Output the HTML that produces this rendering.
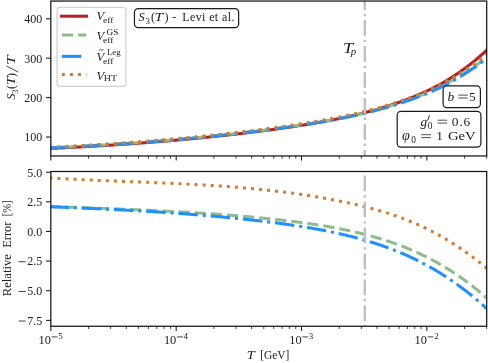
<!DOCTYPE html>
<html><head><meta charset="utf-8"><title>S3(T)/T</title>
<style>
html,body{margin:0;padding:0;background:#fff;}
svg{display:block;will-change:transform;font-family:"Liberation Serif",serif;}
</style></head>
<body>
<svg width="488" height="363" viewBox="0 0 488 363">
<rect width="488" height="363" fill="#fff"/>
<defs>
<clipPath id="ct"><rect x="50.82" y="1.05" width="435.88" height="154.89999999999998"/></clipPath>
<clipPath id="cb"><rect x="50.82" y="171.5" width="435.88" height="154.75"/></clipPath>
</defs>
<!-- top panel curves -->
<g clip-path="url(#ct)" fill="none" stroke-width="3.05">
<path d="M49.30,148.51 L50.18,148.46 L51.06,148.42 L51.94,148.38 L52.81,148.34 L53.69,148.30 L54.57,148.25 L55.45,148.21 L56.33,148.17 L57.21,148.13 L58.08,148.08 L58.96,148.04 L59.84,147.99 L60.72,147.95 L61.60,147.91 L62.48,147.86 L63.36,147.82 L64.23,147.77 L65.11,147.73 L65.99,147.68 L66.87,147.64 L67.75,147.59 L68.63,147.55 L69.50,147.50 L70.38,147.46 L71.26,147.41 L72.14,147.36 L73.02,147.32 L73.90,147.27 L74.78,147.22 L75.65,147.18 L76.53,147.13 L77.41,147.08 L78.29,147.03 L79.17,146.98 L80.05,146.94 L80.92,146.89 L81.80,146.84 L82.68,146.79 L83.56,146.74 L84.44,146.69 L85.32,146.64 L86.20,146.59 L87.07,146.54 L87.95,146.49 L88.83,146.44 L89.71,146.39 L90.59,146.34 L91.47,146.29 L92.34,146.24 L93.22,146.19 L94.10,146.13 L94.98,146.08 L95.86,146.03 L96.74,145.98 L97.62,145.92 L98.49,145.87 L99.37,145.82 L100.25,145.77 L101.13,145.71 L102.01,145.66 L102.89,145.60 L103.76,145.55 L104.64,145.49 L105.52,145.44 L106.40,145.38 L107.28,145.33 L108.16,145.27 L109.04,145.22 L109.91,145.16 L110.79,145.11 L111.67,145.05 L112.55,144.99 L113.43,144.94 L114.31,144.88 L115.18,144.82 L116.06,144.76 L116.94,144.70 L117.82,144.65 L118.70,144.59 L119.58,144.53 L120.46,144.47 L121.33,144.41 L122.21,144.35 L123.09,144.29 L123.97,144.23 L124.85,144.17 L125.73,144.11 L126.60,144.05 L127.48,143.99 L128.36,143.93 L129.24,143.86 L130.12,143.80 L131.00,143.74 L131.87,143.68 L132.75,143.62 L133.63,143.55 L134.51,143.49 L135.39,143.43 L136.27,143.36 L137.15,143.30 L138.02,143.23 L138.90,143.17 L139.78,143.10 L140.66,143.04 L141.54,142.97 L142.42,142.91 L143.29,142.84 L144.17,142.77 L145.05,142.71 L145.93,142.64 L146.81,142.57 L147.69,142.51 L148.57,142.44 L149.44,142.37 L150.32,142.30 L151.20,142.23 L152.08,142.17 L152.96,142.10 L153.84,142.03 L154.71,141.96 L155.59,141.89 L156.47,141.82 L157.35,141.75 L158.23,141.67 L159.11,141.60 L159.99,141.53 L160.86,141.46 L161.74,141.39 L162.62,141.32 L163.50,141.24 L164.38,141.17 L165.26,141.10 L166.13,141.02 L167.01,140.95 L167.89,140.87 L168.77,140.80 L169.65,140.72 L170.53,140.65 L171.41,140.57 L172.28,140.50 L173.16,140.42 L174.04,140.35 L174.92,140.27 L175.80,140.19 L176.68,140.11 L177.55,140.04 L178.43,139.96 L179.31,139.88 L180.19,139.80 L181.07,139.72 L181.95,139.64 L182.83,139.56 L183.70,139.48 L184.58,139.40 L185.46,139.32 L186.34,139.24 L187.22,139.16 L188.10,139.08 L188.97,139.00 L189.85,138.91 L190.73,138.83 L191.61,138.75 L192.49,138.66 L193.37,138.58 L194.25,138.50 L195.12,138.41 L196.00,138.33 L196.88,138.24 L197.76,138.16 L198.64,138.07 L199.52,137.98 L200.39,137.90 L201.27,137.81 L202.15,137.72 L203.03,137.64 L203.91,137.55 L204.79,137.46 L205.67,137.37 L206.54,137.28 L207.42,137.19 L208.30,137.10 L209.18,137.01 L210.06,136.92 L210.94,136.83 L211.81,136.74 L212.69,136.65 L213.57,136.56 L214.45,136.47 L215.33,136.37 L216.21,136.28 L217.09,136.19 L217.96,136.09 L218.84,136.00 L219.72,135.91 L220.60,135.81 L221.48,135.72 L222.36,135.62 L223.23,135.53 L224.11,135.43 L224.99,135.33 L225.87,135.24 L226.75,135.14 L227.63,135.04 L228.51,134.94 L229.38,134.84 L230.26,134.74 L231.14,134.65 L232.02,134.55 L232.90,134.45 L233.78,134.34 L234.65,134.24 L235.53,134.14 L236.41,134.04 L237.29,133.94 L238.17,133.84 L239.05,133.73 L239.93,133.63 L240.80,133.53 L241.68,133.42 L242.56,133.32 L243.44,133.21 L244.32,133.11 L245.20,133.00 L246.07,132.90 L246.95,132.79 L247.83,132.68 L248.71,132.58 L249.59,132.47 L250.47,132.36 L251.35,132.25 L252.22,132.14 L253.10,132.03 L253.98,131.92 L254.86,131.81 L255.74,131.70 L256.62,131.59 L257.49,131.48 L258.37,131.37 L259.25,131.25 L260.13,131.14 L261.01,131.03 L261.89,130.92 L262.77,130.80 L263.64,130.69 L264.52,130.57 L265.40,130.46 L266.28,130.34 L267.16,130.22 L268.04,130.11 L268.91,129.99 L269.79,129.87 L270.67,129.75 L271.55,129.64 L272.43,129.52 L273.31,129.40 L274.18,129.28 L275.06,129.16 L275.94,129.04 L276.82,128.92 L277.70,128.79 L278.58,128.67 L279.46,128.55 L280.33,128.43 L281.21,128.30 L282.09,128.18 L282.97,128.05 L283.85,127.93 L284.73,127.80 L285.60,127.68 L286.48,127.55 L287.36,127.43 L288.24,127.30 L289.12,127.17 L290.00,127.04 L290.88,126.91 L291.75,126.78 L292.63,126.65 L293.51,126.52 L294.39,126.39 L295.27,126.26 L296.15,126.13 L297.02,125.99 L297.90,125.86 L298.78,125.73 L299.66,125.59 L300.54,125.45 L301.42,125.32 L302.30,125.18 L303.17,125.04 L304.05,124.90 L304.93,124.76 L305.81,124.62 L306.69,124.48 L307.57,124.34 L308.44,124.20 L309.32,124.05 L310.20,123.91 L311.08,123.76 L311.96,123.62 L312.84,123.47 L313.72,123.32 L314.59,123.17 L315.47,123.02 L316.35,122.87 L317.23,122.72 L318.11,122.57 L318.99,122.42 L319.86,122.26 L320.74,122.11 L321.62,121.95 L322.50,121.79 L323.38,121.63 L324.26,121.47 L325.14,121.31 L326.01,121.15 L326.89,120.99 L327.77,120.82 L328.65,120.66 L329.53,120.49 L330.41,120.32 L331.28,120.15 L332.16,119.98 L333.04,119.81 L333.92,119.64 L334.80,119.46 L335.68,119.29 L336.56,119.11 L337.43,118.94 L338.31,118.76 L339.19,118.58 L340.07,118.39 L340.95,118.21 L341.83,118.03 L342.70,117.84 L343.58,117.65 L344.46,117.47 L345.34,117.28 L346.22,117.09 L347.10,116.89 L347.98,116.70 L348.85,116.50 L349.73,116.31 L350.61,116.11 L351.49,115.91 L352.37,115.71 L353.25,115.50 L354.12,115.30 L355.00,115.09 L355.88,114.88 L356.76,114.67 L357.64,114.46 L358.52,114.25 L359.40,114.04 L360.27,113.82 L361.15,113.60 L362.03,113.38 L362.91,113.16 L363.79,112.94 L364.67,112.71 L365.54,112.49 L366.42,112.26 L367.30,112.03 L368.18,111.80 L369.06,111.56 L369.94,111.33 L370.82,111.09 L371.69,110.85 L372.57,110.61 L373.45,110.37 L374.33,110.12 L375.21,109.87 L376.09,109.63 L376.96,109.37 L377.84,109.12 L378.72,108.87 L379.60,108.61 L380.48,108.35 L381.36,108.09 L382.24,107.83 L383.11,107.56 L383.99,107.29 L384.87,107.02 L385.75,106.75 L386.63,106.48 L387.51,106.20 L388.38,105.92 L389.26,105.64 L390.14,105.36 L391.02,105.07 L391.90,104.78 L392.78,104.49 L393.66,104.20 L394.53,103.91 L395.41,103.61 L396.29,103.31 L397.17,103.01 L398.05,102.71 L398.93,102.40 L399.80,102.09 L400.68,101.78 L401.56,101.46 L402.44,101.15 L403.32,100.82 L404.20,100.50 L405.08,100.18 L405.95,99.85 L406.83,99.52 L407.71,99.18 L408.59,98.84 L409.47,98.50 L410.35,98.16 L411.22,97.81 L412.10,97.46 L412.98,97.11 L413.86,96.75 L414.74,96.39 L415.62,96.03 L416.49,95.66 L417.37,95.29 L418.25,94.92 L419.13,94.54 L420.01,94.16 L420.89,93.77 L421.77,93.39 L422.64,92.99 L423.52,92.60 L424.40,92.20 L425.28,91.79 L426.16,91.39 L427.04,90.98 L427.91,90.56 L428.79,90.14 L429.67,89.72 L430.55,89.29 L431.43,88.86 L432.31,88.42 L433.19,87.98 L434.06,87.53 L434.94,87.08 L435.82,86.63 L436.70,86.17 L437.58,85.71 L438.46,85.24 L439.33,84.77 L440.21,84.29 L441.09,83.79 L441.97,83.29 L442.85,82.79 L443.73,82.28 L444.61,81.76 L445.48,81.24 L446.36,80.72 L447.24,80.19 L448.12,79.65 L449.00,79.11 L449.88,78.57 L450.75,78.02 L451.63,77.46 L452.51,76.90 L453.39,76.33 L454.27,75.76 L455.15,75.18 L456.03,74.60 L456.90,74.01 L457.78,73.41 L458.66,72.81 L459.54,72.20 L460.42,71.59 L461.30,70.97 L462.17,70.34 L463.05,69.71 L463.93,69.08 L464.81,68.43 L465.69,67.78 L466.57,67.13 L467.45,66.46 L468.32,65.80 L469.20,65.12 L470.08,64.44 L470.96,63.75 L471.84,63.06 L472.72,62.35 L473.59,61.64 L474.47,60.93 L475.35,60.21 L476.23,59.48 L477.11,58.74 L477.99,58.00 L478.87,57.25 L479.74,56.49 L480.62,55.73 L481.50,54.95 L482.38,54.17 L483.26,53.39 L484.14,52.59 L485.01,51.79 L485.89,50.98 L486.77,50.16 L487.65,49.34" stroke="#b52020" stroke-linecap="square"/>
<path d="M49.30,147.92 L50.18,147.88 L51.06,147.83 L51.94,147.79 L52.81,147.75 L53.69,147.71 L54.57,147.66 L55.45,147.62 L56.33,147.58 L57.21,147.54 L58.08,147.49 L58.96,147.45 L59.84,147.40 L60.72,147.36 L61.60,147.32 L62.48,147.27 L63.36,147.23 L64.23,147.18 L65.11,147.14 L65.99,147.09 L66.87,147.05 L67.75,147.00 L68.63,146.96 L69.50,146.91 L70.38,146.86 L71.26,146.82 L72.14,146.77 L73.02,146.73 L73.90,146.68 L74.78,146.63 L75.65,146.58 L76.53,146.54 L77.41,146.49 L78.29,146.44 L79.17,146.39 L80.05,146.34 L80.92,146.29 L81.80,146.25 L82.68,146.20 L83.56,146.15 L84.44,146.10 L85.32,146.05 L86.20,146.00 L87.07,145.95 L87.95,145.90 L88.83,145.85 L89.71,145.80 L90.59,145.75 L91.47,145.69 L92.34,145.64 L93.22,145.59 L94.10,145.54 L94.98,145.49 L95.86,145.43 L96.74,145.38 L97.62,145.33 L98.49,145.27 L99.37,145.22 L100.25,145.17 L101.13,145.11 L102.01,145.06 L102.89,145.01 L103.76,144.95 L104.64,144.90 L105.52,144.84 L106.40,144.79 L107.28,144.73 L108.16,144.67 L109.04,144.62 L109.91,144.56 L110.79,144.51 L111.67,144.45 L112.55,144.39 L113.43,144.33 L114.31,144.28 L115.18,144.22 L116.06,144.16 L116.94,144.10 L117.82,144.05 L118.70,143.99 L119.58,143.93 L120.46,143.87 L121.33,143.81 L122.21,143.75 L123.09,143.69 L123.97,143.63 L124.85,143.57 L125.73,143.51 L126.60,143.45 L127.48,143.38 L128.36,143.32 L129.24,143.26 L130.12,143.20 L131.00,143.14 L131.87,143.07 L132.75,143.01 L133.63,142.95 L134.51,142.88 L135.39,142.82 L136.27,142.76 L137.15,142.69 L138.02,142.63 L138.90,142.56 L139.78,142.50 L140.66,142.43 L141.54,142.37 L142.42,142.30 L143.29,142.24 L144.17,142.17 L145.05,142.10 L145.93,142.04 L146.81,141.97 L147.69,141.90 L148.57,141.83 L149.44,141.76 L150.32,141.70 L151.20,141.63 L152.08,141.56 L152.96,141.49 L153.84,141.42 L154.71,141.35 L155.59,141.28 L156.47,141.21 L157.35,141.14 L158.23,141.07 L159.11,141.00 L159.99,140.93 L160.86,140.85 L161.74,140.78 L162.62,140.71 L163.50,140.64 L164.38,140.56 L165.26,140.49 L166.13,140.42 L167.01,140.34 L167.89,140.27 L168.77,140.19 L169.65,140.12 L170.53,140.04 L171.41,139.97 L172.28,139.89 L173.16,139.82 L174.04,139.74 L174.92,139.66 L175.80,139.59 L176.68,139.51 L177.55,139.43 L178.43,139.35 L179.31,139.27 L180.19,139.20 L181.07,139.12 L181.95,139.04 L182.83,138.96 L183.70,138.88 L184.58,138.80 L185.46,138.72 L186.34,138.64 L187.22,138.56 L188.10,138.48 L188.97,138.39 L189.85,138.31 L190.73,138.23 L191.61,138.15 L192.49,138.06 L193.37,137.98 L194.25,137.90 L195.12,137.81 L196.00,137.73 L196.88,137.64 L197.76,137.56 L198.64,137.47 L199.52,137.39 L200.39,137.30 L201.27,137.22 L202.15,137.13 L203.03,137.04 L203.91,136.95 L204.79,136.87 L205.67,136.78 L206.54,136.69 L207.42,136.60 L208.30,136.51 L209.18,136.42 L210.06,136.33 L210.94,136.24 L211.81,136.15 L212.69,136.06 L213.57,135.97 L214.45,135.88 L215.33,135.79 L216.21,135.70 L217.09,135.60 L217.96,135.51 L218.84,135.42 L219.72,135.32 L220.60,135.23 L221.48,135.14 L222.36,135.04 L223.23,134.95 L224.11,134.85 L224.99,134.75 L225.87,134.66 L226.75,134.56 L227.63,134.47 L228.51,134.37 L229.38,134.27 L230.26,134.17 L231.14,134.07 L232.02,133.98 L232.90,133.88 L233.78,133.78 L234.65,133.68 L235.53,133.58 L236.41,133.48 L237.29,133.38 L238.17,133.28 L239.05,133.17 L239.93,133.07 L240.80,132.97 L241.68,132.87 L242.56,132.76 L243.44,132.66 L244.32,132.56 L245.20,132.45 L246.07,132.35 L246.95,132.24 L247.83,132.14 L248.71,132.03 L249.59,131.93 L250.47,131.82 L251.35,131.71 L252.22,131.61 L253.10,131.50 L253.98,131.39 L254.86,131.28 L255.74,131.17 L256.62,131.06 L257.49,130.95 L258.37,130.84 L259.25,130.73 L260.13,130.62 L261.01,130.51 L261.89,130.40 L262.77,130.29 L263.64,130.17 L264.52,130.06 L265.40,129.95 L266.28,129.84 L267.16,129.72 L268.04,129.61 L268.91,129.49 L269.79,129.38 L270.67,129.26 L271.55,129.15 L272.43,129.03 L273.31,128.91 L274.18,128.79 L275.06,128.68 L275.94,128.56 L276.82,128.44 L277.70,128.32 L278.58,128.20 L279.46,128.08 L280.33,127.96 L281.21,127.84 L282.09,127.72 L282.97,127.60 L283.85,127.48 L284.73,127.35 L285.60,127.23 L286.48,127.11 L287.36,126.99 L288.24,126.86 L289.12,126.74 L290.00,126.61 L290.88,126.49 L291.75,126.36 L292.63,126.23 L293.51,126.11 L294.39,125.98 L295.27,125.85 L296.15,125.72 L297.02,125.59 L297.90,125.46 L298.78,125.33 L299.66,125.20 L300.54,125.07 L301.42,124.93 L302.30,124.80 L303.17,124.67 L304.05,124.53 L304.93,124.40 L305.81,124.26 L306.69,124.12 L307.57,123.99 L308.44,123.85 L309.32,123.71 L310.20,123.57 L311.08,123.43 L311.96,123.29 L312.84,123.15 L313.72,123.00 L314.59,122.86 L315.47,122.71 L316.35,122.57 L317.23,122.42 L318.11,122.27 L318.99,122.13 L319.86,121.98 L320.74,121.83 L321.62,121.68 L322.50,121.52 L323.38,121.37 L324.26,121.22 L325.14,121.06 L326.01,120.91 L326.89,120.75 L327.77,120.59 L328.65,120.43 L329.53,120.27 L330.41,120.11 L331.28,119.95 L332.16,119.79 L333.04,119.62 L333.92,119.46 L334.80,119.29 L335.68,119.12 L336.56,118.95 L337.43,118.78 L338.31,118.61 L339.19,118.44 L340.07,118.27 L340.95,118.09 L341.83,117.91 L342.70,117.74 L343.58,117.56 L344.46,117.38 L345.34,117.20 L346.22,117.02 L347.10,116.83 L347.98,116.65 L348.85,116.46 L349.73,116.27 L350.61,116.08 L351.49,115.89 L352.37,115.70 L353.25,115.51 L354.12,115.32 L355.00,115.12 L355.88,114.92 L356.76,114.72 L357.64,114.52 L358.52,114.32 L359.40,114.12 L360.27,113.91 L361.15,113.71 L362.03,113.50 L362.91,113.29 L363.79,113.08 L364.67,112.87 L365.54,112.66 L366.42,112.44 L367.30,112.22 L368.18,112.01 L369.06,111.79 L369.94,111.56 L370.82,111.34 L371.69,111.11 L372.57,110.89 L373.45,110.66 L374.33,110.43 L375.21,110.20 L376.09,109.96 L376.96,109.73 L377.84,109.49 L378.72,109.25 L379.60,109.01 L380.48,108.77 L381.36,108.53 L382.24,108.28 L383.11,108.03 L383.99,107.78 L384.87,107.53 L385.75,107.28 L386.63,107.02 L387.51,106.77 L388.38,106.51 L389.26,106.25 L390.14,105.98 L391.02,105.72 L391.90,105.45 L392.78,105.18 L393.66,104.91 L394.53,104.64 L395.41,104.36 L396.29,104.09 L397.17,103.81 L398.05,103.53 L398.93,103.24 L399.80,102.96 L400.68,102.67 L401.56,102.38 L402.44,102.09 L403.32,101.80 L404.20,101.50 L405.08,101.20 L405.95,100.90 L406.83,100.59 L407.71,100.29 L408.59,99.98 L409.47,99.67 L410.35,99.35 L411.22,99.04 L412.10,98.72 L412.98,98.39 L413.86,98.07 L414.74,97.74 L415.62,97.41 L416.49,97.08 L417.37,96.74 L418.25,96.40 L419.13,96.06 L420.01,95.71 L420.89,95.36 L421.77,95.01 L422.64,94.66 L423.52,94.30 L424.40,93.94 L425.28,93.57 L426.16,93.21 L427.04,92.83 L427.91,92.46 L428.79,92.08 L429.67,91.70 L430.55,91.32 L431.43,90.93 L432.31,90.54 L433.19,90.14 L434.06,89.74 L434.94,89.34 L435.82,88.93 L436.70,88.52 L437.58,88.11 L438.46,87.69 L439.33,87.27 L440.21,86.84 L441.09,86.40 L441.97,85.96 L442.85,85.51 L443.73,85.05 L444.61,84.59 L445.48,84.13 L446.36,83.67 L447.24,83.20 L448.12,82.72 L449.00,82.25 L449.88,81.76 L450.75,81.28 L451.63,80.79 L452.51,80.29 L453.39,79.79 L454.27,79.29 L455.15,78.78 L456.03,78.27 L456.90,77.75 L457.78,77.23 L458.66,76.70 L459.54,76.17 L460.42,75.63 L461.30,75.09 L462.17,74.55 L463.05,74.00 L463.93,73.44 L464.81,72.88 L465.69,72.32 L466.57,71.75 L467.45,71.18 L468.32,70.60 L469.20,70.02 L470.08,69.43 L470.96,68.83 L471.84,68.23 L472.72,67.63 L473.59,67.02 L474.47,66.41 L475.35,65.79 L476.23,65.16 L477.11,64.54 L477.99,63.90 L478.87,63.26 L479.74,62.61 L480.62,61.96 L481.50,61.31 L482.38,60.65 L483.26,59.98 L484.14,59.31 L485.01,58.63 L485.89,57.94 L486.77,57.26 L487.65,56.56" stroke="#8fbc8f" stroke-dasharray="11.29,4.88"/>
<path d="M49.30,147.92 L50.18,147.88 L51.06,147.84 L51.94,147.80 L52.81,147.76 L53.69,147.71 L54.57,147.67 L55.45,147.63 L56.33,147.59 L57.21,147.54 L58.08,147.50 L58.96,147.46 L59.84,147.41 L60.72,147.37 L61.60,147.32 L62.48,147.28 L63.36,147.24 L64.23,147.19 L65.11,147.15 L65.99,147.10 L66.87,147.06 L67.75,147.01 L68.63,146.96 L69.50,146.92 L70.38,146.87 L71.26,146.83 L72.14,146.78 L73.02,146.73 L73.90,146.69 L74.78,146.64 L75.65,146.59 L76.53,146.54 L77.41,146.50 L78.29,146.45 L79.17,146.40 L80.05,146.35 L80.92,146.30 L81.80,146.26 L82.68,146.21 L83.56,146.16 L84.44,146.11 L85.32,146.06 L86.20,146.01 L87.07,145.96 L87.95,145.91 L88.83,145.86 L89.71,145.81 L90.59,145.76 L91.47,145.71 L92.34,145.65 L93.22,145.60 L94.10,145.55 L94.98,145.50 L95.86,145.45 L96.74,145.39 L97.62,145.34 L98.49,145.29 L99.37,145.24 L100.25,145.18 L101.13,145.13 L102.01,145.07 L102.89,145.02 L103.76,144.97 L104.64,144.91 L105.52,144.86 L106.40,144.80 L107.28,144.75 L108.16,144.69 L109.04,144.64 L109.91,144.58 L110.79,144.52 L111.67,144.47 L112.55,144.41 L113.43,144.35 L114.31,144.30 L115.18,144.24 L116.06,144.18 L116.94,144.12 L117.82,144.06 L118.70,144.01 L119.58,143.95 L120.46,143.89 L121.33,143.83 L122.21,143.77 L123.09,143.71 L123.97,143.65 L124.85,143.59 L125.73,143.53 L126.60,143.47 L127.48,143.41 L128.36,143.35 L129.24,143.29 L130.12,143.22 L131.00,143.16 L131.87,143.10 L132.75,143.04 L133.63,142.97 L134.51,142.91 L135.39,142.85 L136.27,142.78 L137.15,142.72 L138.02,142.66 L138.90,142.59 L139.78,142.53 L140.66,142.46 L141.54,142.40 L142.42,142.33 L143.29,142.27 L144.17,142.20 L145.05,142.13 L145.93,142.07 L146.81,142.00 L147.69,141.93 L148.57,141.87 L149.44,141.80 L150.32,141.73 L151.20,141.66 L152.08,141.59 L152.96,141.52 L153.84,141.46 L154.71,141.39 L155.59,141.32 L156.47,141.25 L157.35,141.18 L158.23,141.11 L159.11,141.03 L159.99,140.96 L160.86,140.89 L161.74,140.82 L162.62,140.75 L163.50,140.68 L164.38,140.60 L165.26,140.53 L166.13,140.46 L167.01,140.38 L167.89,140.31 L168.77,140.24 L169.65,140.16 L170.53,140.09 L171.41,140.01 L172.28,139.94 L173.16,139.86 L174.04,139.79 L174.92,139.71 L175.80,139.63 L176.68,139.56 L177.55,139.48 L178.43,139.40 L179.31,139.33 L180.19,139.25 L181.07,139.17 L181.95,139.09 L182.83,139.01 L183.70,138.93 L184.58,138.85 L185.46,138.77 L186.34,138.69 L187.22,138.61 L188.10,138.53 L188.97,138.45 L189.85,138.37 L190.73,138.29 L191.61,138.21 L192.49,138.12 L193.37,138.04 L194.25,137.96 L195.12,137.87 L196.00,137.79 L196.88,137.71 L197.76,137.62 L198.64,137.54 L199.52,137.45 L200.39,137.37 L201.27,137.28 L202.15,137.19 L203.03,137.11 L203.91,137.02 L204.79,136.94 L205.67,136.85 L206.54,136.76 L207.42,136.67 L208.30,136.58 L209.18,136.50 L210.06,136.41 L210.94,136.32 L211.81,136.23 L212.69,136.14 L213.57,136.05 L214.45,135.96 L215.33,135.86 L216.21,135.77 L217.09,135.68 L217.96,135.59 L218.84,135.50 L219.72,135.40 L220.60,135.31 L221.48,135.22 L222.36,135.12 L223.23,135.03 L224.11,134.93 L224.99,134.84 L225.87,134.74 L226.75,134.65 L227.63,134.55 L228.51,134.46 L229.38,134.36 L230.26,134.26 L231.14,134.17 L232.02,134.07 L232.90,133.97 L233.78,133.87 L234.65,133.77 L235.53,133.67 L236.41,133.57 L237.29,133.47 L238.17,133.37 L239.05,133.27 L239.93,133.17 L240.80,133.07 L241.68,132.97 L242.56,132.87 L243.44,132.76 L244.32,132.66 L245.20,132.56 L246.07,132.45 L246.95,132.35 L247.83,132.24 L248.71,132.14 L249.59,132.03 L250.47,131.93 L251.35,131.82 L252.22,131.72 L253.10,131.61 L253.98,131.50 L254.86,131.39 L255.74,131.29 L256.62,131.18 L257.49,131.07 L258.37,130.96 L259.25,130.85 L260.13,130.74 L261.01,130.63 L261.89,130.52 L262.77,130.41 L263.64,130.30 L264.52,130.19 L265.40,130.07 L266.28,129.96 L267.16,129.85 L268.04,129.73 L268.91,129.62 L269.79,129.51 L270.67,129.39 L271.55,129.28 L272.43,129.16 L273.31,129.04 L274.18,128.93 L275.06,128.81 L275.94,128.69 L276.82,128.58 L277.70,128.46 L278.58,128.34 L279.46,128.22 L280.33,128.10 L281.21,127.98 L282.09,127.86 L282.97,127.74 L283.85,127.62 L284.73,127.50 L285.60,127.38 L286.48,127.26 L287.36,127.14 L288.24,127.01 L289.12,126.89 L290.00,126.76 L290.88,126.64 L291.75,126.52 L292.63,126.39 L293.51,126.26 L294.39,126.14 L295.27,126.01 L296.15,125.88 L297.02,125.76 L297.90,125.63 L298.78,125.50 L299.66,125.37 L300.54,125.24 L301.42,125.11 L302.30,124.97 L303.17,124.84 L304.05,124.71 L304.93,124.57 L305.81,124.44 L306.69,124.30 L307.57,124.17 L308.44,124.03 L309.32,123.89 L310.20,123.76 L311.08,123.62 L311.96,123.48 L312.84,123.34 L313.72,123.19 L314.59,123.05 L315.47,122.91 L316.35,122.77 L317.23,122.62 L318.11,122.47 L318.99,122.33 L319.86,122.18 L320.74,122.03 L321.62,121.88 L322.50,121.73 L323.38,121.58 L324.26,121.43 L325.14,121.28 L326.01,121.12 L326.89,120.97 L327.77,120.81 L328.65,120.65 L329.53,120.50 L330.41,120.34 L331.28,120.18 L332.16,120.01 L333.04,119.85 L333.92,119.69 L334.80,119.52 L335.68,119.36 L336.56,119.19 L337.43,119.02 L338.31,118.85 L339.19,118.68 L340.07,118.51 L340.95,118.34 L341.83,118.16 L342.70,117.99 L343.58,117.81 L344.46,117.64 L345.34,117.46 L346.22,117.28 L347.10,117.10 L347.98,116.91 L348.85,116.73 L349.73,116.54 L350.61,116.36 L351.49,116.17 L352.37,115.98 L353.25,115.79 L354.12,115.60 L355.00,115.40 L355.88,115.21 L356.76,115.01 L357.64,114.81 L358.52,114.62 L359.40,114.41 L360.27,114.21 L361.15,114.01 L362.03,113.80 L362.91,113.60 L363.79,113.39 L364.67,113.18 L365.54,112.97 L366.42,112.76 L367.30,112.54 L368.18,112.33 L369.06,112.11 L369.94,111.89 L370.82,111.67 L371.69,111.45 L372.57,111.22 L373.45,111.00 L374.33,110.77 L375.21,110.54 L376.09,110.31 L376.96,110.08 L377.84,109.85 L378.72,109.61 L379.60,109.37 L380.48,109.13 L381.36,108.89 L382.24,108.65 L383.11,108.41 L383.99,108.16 L384.87,107.91 L385.75,107.66 L386.63,107.41 L387.51,107.16 L388.38,106.90 L389.26,106.64 L390.14,106.38 L391.02,106.12 L391.90,105.86 L392.78,105.59 L393.66,105.33 L394.53,105.06 L395.41,104.79 L396.29,104.51 L397.17,104.24 L398.05,103.96 L398.93,103.68 L399.80,103.40 L400.68,103.12 L401.56,102.83 L402.44,102.55 L403.32,102.26 L404.20,101.96 L405.08,101.67 L405.95,101.37 L406.83,101.07 L407.71,100.77 L408.59,100.46 L409.47,100.16 L410.35,99.85 L411.22,99.54 L412.10,99.22 L412.98,98.90 L413.86,98.58 L414.74,98.26 L415.62,97.93 L416.49,97.60 L417.37,97.27 L418.25,96.94 L419.13,96.60 L420.01,96.26 L420.89,95.92 L421.77,95.57 L422.64,95.22 L423.52,94.87 L424.40,94.51 L425.28,94.15 L426.16,93.79 L427.04,93.43 L427.91,93.06 L428.79,92.68 L429.67,92.31 L430.55,91.93 L431.43,91.55 L432.31,91.16 L433.19,90.77 L434.06,90.38 L434.94,89.98 L435.82,89.58 L436.70,89.18 L437.58,88.77 L438.46,88.36 L439.33,87.95 L440.21,87.52 L441.09,87.09 L441.97,86.65 L442.85,86.21 L443.73,85.76 L444.61,85.31 L445.48,84.85 L446.36,84.40 L447.24,83.93 L448.12,83.47 L449.00,83.00 L449.88,82.52 L450.75,82.04 L451.63,81.56 L452.51,81.07 L453.39,80.58 L454.27,80.08 L455.15,79.58 L456.03,79.08 L456.90,78.57 L457.78,78.05 L458.66,77.53 L459.54,77.01 L460.42,76.48 L461.30,75.95 L462.17,75.41 L463.05,74.87 L463.93,74.33 L464.81,73.78 L465.69,73.22 L466.57,72.66 L467.45,72.10 L468.32,71.53 L469.20,70.95 L470.08,70.37 L470.96,69.79 L471.84,69.20 L472.72,68.60 L473.59,68.00 L474.47,67.40 L475.35,66.79 L476.23,66.17 L477.11,65.55 L477.99,64.93 L478.87,64.30 L479.74,63.66 L480.62,63.02 L481.50,62.38 L482.38,61.72 L483.26,61.07 L484.14,60.40 L485.01,59.74 L485.89,59.06 L486.77,58.39 L487.65,57.70" stroke="#1e90ff" stroke-dasharray="19.52,4.88,3.05,4.88"/>
<path d="M49.30,147.24 L50.18,147.20 L51.06,147.16 L51.94,147.12 L52.81,147.07 L53.69,147.03 L54.57,146.99 L55.45,146.95 L56.33,146.90 L57.21,146.86 L58.08,146.81 L58.96,146.77 L59.84,146.73 L60.72,146.68 L61.60,146.64 L62.48,146.59 L63.36,146.55 L64.23,146.50 L65.11,146.46 L65.99,146.41 L66.87,146.36 L67.75,146.32 L68.63,146.27 L69.50,146.22 L70.38,146.18 L71.26,146.13 L72.14,146.08 L73.02,146.04 L73.90,145.99 L74.78,145.94 L75.65,145.89 L76.53,145.84 L77.41,145.79 L78.29,145.75 L79.17,145.70 L80.05,145.65 L80.92,145.60 L81.80,145.55 L82.68,145.50 L83.56,145.45 L84.44,145.40 L85.32,145.35 L86.20,145.29 L87.07,145.24 L87.95,145.19 L88.83,145.14 L89.71,145.09 L90.59,145.04 L91.47,144.98 L92.34,144.93 L93.22,144.88 L94.10,144.83 L94.98,144.77 L95.86,144.72 L96.74,144.67 L97.62,144.61 L98.49,144.56 L99.37,144.50 L100.25,144.45 L101.13,144.39 L102.01,144.34 L102.89,144.28 L103.76,144.23 L104.64,144.17 L105.52,144.11 L106.40,144.06 L107.28,144.00 L108.16,143.94 L109.04,143.89 L109.91,143.83 L110.79,143.77 L111.67,143.71 L112.55,143.65 L113.43,143.60 L114.31,143.54 L115.18,143.48 L116.06,143.42 L116.94,143.36 L117.82,143.30 L118.70,143.24 L119.58,143.18 L120.46,143.12 L121.33,143.06 L122.21,143.00 L123.09,142.94 L123.97,142.87 L124.85,142.81 L125.73,142.75 L126.60,142.69 L127.48,142.62 L128.36,142.56 L129.24,142.50 L130.12,142.43 L131.00,142.37 L131.87,142.31 L132.75,142.24 L133.63,142.18 L134.51,142.11 L135.39,142.05 L136.27,141.98 L137.15,141.92 L138.02,141.85 L138.90,141.78 L139.78,141.72 L140.66,141.65 L141.54,141.58 L142.42,141.51 L143.29,141.45 L144.17,141.38 L145.05,141.31 L145.93,141.24 L146.81,141.17 L147.69,141.10 L148.57,141.03 L149.44,140.96 L150.32,140.89 L151.20,140.82 L152.08,140.75 L152.96,140.68 L153.84,140.61 L154.71,140.54 L155.59,140.47 L156.47,140.39 L157.35,140.32 L158.23,140.25 L159.11,140.18 L159.99,140.10 L160.86,140.03 L161.74,139.95 L162.62,139.88 L163.50,139.81 L164.38,139.73 L165.26,139.66 L166.13,139.58 L167.01,139.50 L167.89,139.43 L168.77,139.35 L169.65,139.27 L170.53,139.20 L171.41,139.12 L172.28,139.04 L173.16,138.96 L174.04,138.89 L174.92,138.81 L175.80,138.73 L176.68,138.65 L177.55,138.57 L178.43,138.49 L179.31,138.41 L180.19,138.33 L181.07,138.25 L181.95,138.17 L182.83,138.08 L183.70,138.00 L184.58,137.92 L185.46,137.84 L186.34,137.75 L187.22,137.67 L188.10,137.59 L188.97,137.50 L189.85,137.42 L190.73,137.34 L191.61,137.25 L192.49,137.17 L193.37,137.08 L194.25,136.99 L195.12,136.91 L196.00,136.82 L196.88,136.73 L197.76,136.65 L198.64,136.56 L199.52,136.47 L200.39,136.38 L201.27,136.29 L202.15,136.21 L203.03,136.12 L203.91,136.03 L204.79,135.94 L205.67,135.85 L206.54,135.76 L207.42,135.67 L208.30,135.57 L209.18,135.48 L210.06,135.39 L210.94,135.30 L211.81,135.20 L212.69,135.11 L213.57,135.02 L214.45,134.92 L215.33,134.83 L216.21,134.74 L217.09,134.64 L217.96,134.55 L218.84,134.45 L219.72,134.35 L220.60,134.26 L221.48,134.16 L222.36,134.06 L223.23,133.97 L224.11,133.87 L224.99,133.77 L225.87,133.67 L226.75,133.57 L227.63,133.47 L228.51,133.37 L229.38,133.27 L230.26,133.17 L231.14,133.07 L232.02,132.97 L232.90,132.87 L233.78,132.77 L234.65,132.67 L235.53,132.56 L236.41,132.46 L237.29,132.36 L238.17,132.25 L239.05,132.15 L239.93,132.05 L240.80,131.94 L241.68,131.84 L242.56,131.73 L243.44,131.62 L244.32,131.52 L245.20,131.41 L246.07,131.30 L246.95,131.20 L247.83,131.09 L248.71,130.98 L249.59,130.87 L250.47,130.76 L251.35,130.65 L252.22,130.54 L253.10,130.43 L253.98,130.32 L254.86,130.21 L255.74,130.10 L256.62,129.99 L257.49,129.88 L258.37,129.76 L259.25,129.65 L260.13,129.54 L261.01,129.42 L261.89,129.31 L262.77,129.19 L263.64,129.08 L264.52,128.96 L265.40,128.85 L266.28,128.73 L267.16,128.61 L268.04,128.50 L268.91,128.38 L269.79,128.26 L270.67,128.14 L271.55,128.02 L272.43,127.91 L273.31,127.79 L274.18,127.67 L275.06,127.55 L275.94,127.43 L276.82,127.30 L277.70,127.18 L278.58,127.06 L279.46,126.94 L280.33,126.82 L281.21,126.69 L282.09,126.57 L282.97,126.44 L283.85,126.32 L284.73,126.19 L285.60,126.07 L286.48,125.94 L287.36,125.82 L288.24,125.69 L289.12,125.56 L290.00,125.44 L290.88,125.31 L291.75,125.18 L292.63,125.05 L293.51,124.92 L294.39,124.79 L295.27,124.66 L296.15,124.53 L297.02,124.40 L297.90,124.26 L298.78,124.13 L299.66,124.00 L300.54,123.86 L301.42,123.73 L302.30,123.59 L303.17,123.45 L304.05,123.32 L304.93,123.18 L305.81,123.04 L306.69,122.90 L307.57,122.76 L308.44,122.62 L309.32,122.48 L310.20,122.33 L311.08,122.19 L311.96,122.04 L312.84,121.90 L313.72,121.75 L314.59,121.61 L315.47,121.46 L316.35,121.31 L317.23,121.16 L318.11,121.01 L318.99,120.86 L319.86,120.71 L320.74,120.55 L321.62,120.40 L322.50,120.24 L323.38,120.09 L324.26,119.93 L325.14,119.77 L326.01,119.61 L326.89,119.45 L327.77,119.29 L328.65,119.13 L329.53,118.97 L330.41,118.80 L331.28,118.64 L332.16,118.47 L333.04,118.30 L333.92,118.13 L334.80,117.96 L335.68,117.79 L336.56,117.62 L337.43,117.44 L338.31,117.27 L339.19,117.09 L340.07,116.91 L340.95,116.74 L341.83,116.56 L342.70,116.37 L343.58,116.19 L344.46,116.01 L345.34,115.82 L346.22,115.64 L347.10,115.45 L347.98,115.26 L348.85,115.07 L349.73,114.88 L350.61,114.68 L351.49,114.49 L352.37,114.29 L353.25,114.09 L354.12,113.89 L355.00,113.69 L355.88,113.49 L356.76,113.29 L357.64,113.08 L358.52,112.88 L359.40,112.67 L360.27,112.46 L361.15,112.25 L362.03,112.03 L362.91,111.82 L363.79,111.60 L364.67,111.38 L365.54,111.17 L366.42,110.94 L367.30,110.72 L368.18,110.50 L369.06,110.27 L369.94,110.04 L370.82,109.81 L371.69,109.58 L372.57,109.35 L373.45,109.12 L374.33,108.88 L375.21,108.64 L376.09,108.40 L376.96,108.16 L377.84,107.92 L378.72,107.67 L379.60,107.42 L380.48,107.17 L381.36,106.92 L382.24,106.67 L383.11,106.42 L383.99,106.16 L384.87,105.90 L385.75,105.64 L386.63,105.38 L387.51,105.11 L388.38,104.85 L389.26,104.58 L390.14,104.31 L391.02,104.04 L391.90,103.76 L392.78,103.49 L393.66,103.21 L394.53,102.93 L395.41,102.65 L396.29,102.36 L397.17,102.08 L398.05,101.79 L398.93,101.50 L399.80,101.20 L400.68,100.91 L401.56,100.61 L402.44,100.31 L403.32,100.01 L404.20,99.70 L405.08,99.39 L405.95,99.08 L406.83,98.77 L407.71,98.45 L408.59,98.14 L409.47,97.82 L410.35,97.49 L411.22,97.17 L412.10,96.84 L412.98,96.51 L413.86,96.17 L414.74,95.84 L415.62,95.50 L416.49,95.15 L417.37,94.81 L418.25,94.46 L419.13,94.10 L420.01,93.75 L420.89,93.39 L421.77,93.03 L422.64,92.66 L423.52,92.30 L424.40,91.92 L425.28,91.55 L426.16,91.17 L427.04,90.79 L427.91,90.40 L428.79,90.02 L429.67,89.62 L430.55,89.23 L431.43,88.83 L432.31,88.43 L433.19,88.02 L434.06,87.61 L434.94,87.20 L435.82,86.78 L436.70,86.36 L437.58,85.93 L438.46,85.50 L439.33,85.07 L440.21,84.63 L441.09,84.17 L441.97,83.72 L442.85,83.25 L443.73,82.79 L444.61,82.31 L445.48,81.84 L446.36,81.36 L447.24,80.88 L448.12,80.39 L449.00,79.90 L449.88,79.40 L450.75,78.90 L451.63,78.39 L452.51,77.88 L453.39,77.37 L454.27,76.85 L455.15,76.33 L456.03,75.80 L456.90,75.26 L457.78,74.73 L458.66,74.18 L459.54,73.64 L460.42,73.08 L461.30,72.53 L462.17,71.97 L463.05,71.40 L463.93,70.83 L464.81,70.25 L465.69,69.67 L466.57,69.08 L467.45,68.49 L468.32,67.89 L469.20,67.29 L470.08,66.68 L470.96,66.07 L471.84,65.45 L472.72,64.83 L473.59,64.20 L474.47,63.56 L475.35,62.92 L476.23,62.28 L477.11,61.62 L477.99,60.97 L478.87,60.31 L479.74,59.64 L480.62,58.96 L481.50,58.28 L482.38,57.60 L483.26,56.91 L484.14,56.21 L485.01,55.51 L485.89,54.80 L486.77,54.08 L487.65,53.36" stroke="#cd7f32" stroke-dasharray="3.05,5.03"/>
<line x1="364.8" x2="364.8" y1="-5.9" y2="160" stroke="#c0c0c0" stroke-width="2.45" stroke-dasharray="15.68,3.92,2.45,3.92"/>
</g>
<!-- bottom panel curves -->
<g clip-path="url(#cb)" fill="none" stroke-width="3.05">
<path d="M49.30,206.42 L50.18,206.46 L51.06,206.49 L51.94,206.52 L52.81,206.56 L53.69,206.59 L54.57,206.63 L55.45,206.66 L56.33,206.70 L57.21,206.73 L58.08,206.76 L58.96,206.80 L59.84,206.83 L60.72,206.86 L61.60,206.90 L62.48,206.93 L63.36,206.96 L64.23,207.00 L65.11,207.03 L65.99,207.06 L66.87,207.10 L67.75,207.13 L68.63,207.16 L69.50,207.20 L70.38,207.23 L71.26,207.26 L72.14,207.29 L73.02,207.33 L73.90,207.36 L74.78,207.39 L75.65,207.43 L76.53,207.46 L77.41,207.49 L78.29,207.52 L79.17,207.56 L80.05,207.59 L80.92,207.62 L81.80,207.65 L82.68,207.69 L83.56,207.72 L84.44,207.75 L85.32,207.78 L86.20,207.82 L87.07,207.85 L87.95,207.88 L88.83,207.91 L89.71,207.95 L90.59,207.98 L91.47,208.01 L92.34,208.04 L93.22,208.08 L94.10,208.11 L94.98,208.14 L95.86,208.17 L96.74,208.21 L97.62,208.24 L98.49,208.27 L99.37,208.31 L100.25,208.34 L101.13,208.37 L102.01,208.40 L102.89,208.44 L103.76,208.47 L104.64,208.50 L105.52,208.54 L106.40,208.57 L107.28,208.60 L108.16,208.64 L109.04,208.67 L109.91,208.70 L110.79,208.74 L111.67,208.77 L112.55,208.81 L113.43,208.84 L114.31,208.87 L115.18,208.91 L116.06,208.94 L116.94,208.98 L117.82,209.01 L118.70,209.04 L119.58,209.08 L120.46,209.11 L121.33,209.15 L122.21,209.18 L123.09,209.22 L123.97,209.25 L124.85,209.29 L125.73,209.32 L126.60,209.36 L127.48,209.40 L128.36,209.43 L129.24,209.47 L130.12,209.50 L131.00,209.54 L131.87,209.58 L132.75,209.61 L133.63,209.65 L134.51,209.69 L135.39,209.72 L136.27,209.76 L137.15,209.80 L138.02,209.83 L138.90,209.87 L139.78,209.91 L140.66,209.95 L141.54,209.99 L142.42,210.02 L143.29,210.06 L144.17,210.10 L145.05,210.14 L145.93,210.18 L146.81,210.22 L147.69,210.26 L148.57,210.30 L149.44,210.34 L150.32,210.38 L151.20,210.42 L152.08,210.46 L152.96,210.50 L153.84,210.54 L154.71,210.58 L155.59,210.62 L156.47,210.66 L157.35,210.70 L158.23,210.74 L159.11,210.79 L159.99,210.83 L160.86,210.87 L161.74,210.91 L162.62,210.96 L163.50,211.00 L164.38,211.04 L165.26,211.09 L166.13,211.13 L167.01,211.18 L167.89,211.22 L168.77,211.26 L169.65,211.31 L170.53,211.35 L171.41,211.40 L172.28,211.45 L173.16,211.49 L174.04,211.54 L174.92,211.58 L175.80,211.63 L176.68,211.68 L177.55,211.73 L178.43,211.77 L179.31,211.82 L180.19,211.87 L181.07,211.92 L181.95,211.97 L182.83,212.02 L183.70,212.07 L184.58,212.12 L185.46,212.17 L186.34,212.22 L187.22,212.27 L188.10,212.32 L188.97,212.37 L189.85,212.42 L190.73,212.47 L191.61,212.53 L192.49,212.58 L193.37,212.63 L194.25,212.68 L195.12,212.74 L196.00,212.79 L196.88,212.85 L197.76,212.90 L198.64,212.96 L199.52,213.01 L200.39,213.07 L201.27,213.12 L202.15,213.18 L203.03,213.24 L203.91,213.29 L204.79,213.35 L205.67,213.41 L206.54,213.47 L207.42,213.53 L208.30,213.59 L209.18,213.64 L210.06,213.70 L210.94,213.76 L211.81,213.83 L212.69,213.89 L213.57,213.95 L214.45,214.01 L215.33,214.07 L216.21,214.13 L217.09,214.20 L217.96,214.26 L218.84,214.32 L219.72,214.39 L220.60,214.45 L221.48,214.52 L222.36,214.58 L223.23,214.65 L224.11,214.72 L224.99,214.78 L225.87,214.85 L226.75,214.92 L227.63,214.99 L228.51,215.05 L229.38,215.12 L230.26,215.19 L231.14,215.26 L232.02,215.33 L232.90,215.40 L233.78,215.47 L234.65,215.55 L235.53,215.62 L236.41,215.69 L237.29,215.76 L238.17,215.84 L239.05,215.91 L239.93,215.99 L240.80,216.06 L241.68,216.14 L242.56,216.21 L243.44,216.29 L244.32,216.36 L245.20,216.44 L246.07,216.52 L246.95,216.60 L247.83,216.68 L248.71,216.76 L249.59,216.84 L250.47,216.92 L251.35,217.00 L252.22,217.08 L253.10,217.16 L253.98,217.24 L254.86,217.33 L255.74,217.41 L256.62,217.49 L257.49,217.58 L258.37,217.66 L259.25,217.75 L260.13,217.84 L261.01,217.92 L261.89,218.01 L262.77,218.10 L263.64,218.19 L264.52,218.27 L265.40,218.36 L266.28,218.45 L267.16,218.54 L268.04,218.64 L268.91,218.73 L269.79,218.82 L270.67,218.91 L271.55,219.01 L272.43,219.10 L273.31,219.19 L274.18,219.29 L275.06,219.38 L275.94,219.48 L276.82,219.58 L277.70,219.68 L278.58,219.77 L279.46,219.87 L280.33,219.97 L281.21,220.07 L282.09,220.17 L282.97,220.27 L283.85,220.37 L284.73,220.48 L285.60,220.58 L286.48,220.68 L287.36,220.79 L288.24,220.89 L289.12,221.00 L290.00,221.10 L290.88,221.21 L291.75,221.32 L292.63,221.43 L293.51,221.54 L294.39,221.64 L295.27,221.76 L296.15,221.87 L297.02,221.98 L297.90,222.09 L298.78,222.21 L299.66,222.32 L300.54,222.44 L301.42,222.55 L302.30,222.67 L303.17,222.79 L304.05,222.91 L304.93,223.03 L305.81,223.15 L306.69,223.27 L307.57,223.39 L308.44,223.52 L309.32,223.64 L310.20,223.77 L311.08,223.90 L311.96,224.03 L312.84,224.16 L313.72,224.29 L314.59,224.42 L315.47,224.55 L316.35,224.68 L317.23,224.82 L318.11,224.96 L318.99,225.09 L319.86,225.23 L320.74,225.37 L321.62,225.52 L322.50,225.66 L323.38,225.80 L324.26,225.95 L325.14,226.09 L326.01,226.24 L326.89,226.39 L327.77,226.54 L328.65,226.70 L329.53,226.85 L330.41,227.00 L331.28,227.16 L332.16,227.32 L333.04,227.48 L333.92,227.64 L334.80,227.80 L335.68,227.97 L336.56,228.13 L337.43,228.30 L338.31,228.47 L339.19,228.64 L340.07,228.81 L340.95,228.98 L341.83,229.16 L342.70,229.34 L343.58,229.52 L344.46,229.70 L345.34,229.88 L346.22,230.06 L347.10,230.25 L347.98,230.44 L348.85,230.62 L349.73,230.82 L350.61,231.01 L351.49,231.20 L352.37,231.40 L353.25,231.60 L354.12,231.80 L355.00,232.00 L355.88,232.20 L356.76,232.41 L357.64,232.62 L358.52,232.83 L359.40,233.04 L360.27,233.25 L361.15,233.47 L362.03,233.69 L362.91,233.91 L363.79,234.13 L364.67,234.35 L365.54,234.58 L366.42,234.81 L367.30,235.04 L368.18,235.27 L369.06,235.51 L369.94,235.74 L370.82,235.98 L371.69,236.23 L372.57,236.47 L373.45,236.72 L374.33,236.97 L375.21,237.22 L376.09,237.47 L376.96,237.73 L377.84,237.98 L378.72,238.25 L379.60,238.51 L380.48,238.78 L381.36,239.04 L382.24,239.32 L383.11,239.59 L383.99,239.87 L384.87,240.15 L385.75,240.43 L386.63,240.71 L387.51,241.00 L388.38,241.29 L389.26,241.58 L390.14,241.88 L391.02,242.18 L391.90,242.48 L392.78,242.79 L393.66,243.09 L394.53,243.40 L395.41,243.72 L396.29,244.03 L397.17,244.35 L398.05,244.68 L398.93,245.00 L399.80,245.33 L400.68,245.66 L401.56,246.00 L402.44,246.34 L403.32,246.68 L404.20,247.03 L405.08,247.38 L405.95,247.73 L406.83,248.08 L407.71,248.44 L408.59,248.80 L409.47,249.17 L410.35,249.54 L411.22,249.91 L412.10,250.29 L412.98,250.67 L413.86,251.05 L414.74,251.44 L415.62,251.83 L416.49,252.22 L417.37,252.62 L418.25,253.02 L419.13,253.43 L420.01,253.83 L420.89,254.25 L421.77,254.66 L422.64,255.08 L423.52,255.51 L424.40,255.94 L425.28,256.37 L426.16,256.80 L427.04,257.24 L427.91,257.69 L428.79,258.14 L429.67,258.59 L430.55,259.04 L431.43,259.51 L432.31,259.97 L433.19,260.44 L434.06,260.91 L434.94,261.39 L435.82,261.87 L436.70,262.35 L437.58,262.84 L438.46,263.34 L439.33,263.84 L440.21,264.34 L441.09,264.85 L441.97,265.36 L442.85,265.88 L443.73,266.40 L444.61,266.92 L445.48,267.45 L446.36,267.99 L447.24,268.53 L448.12,269.07 L449.00,269.62 L449.88,270.17 L450.75,270.73 L451.63,271.29 L452.51,271.86 L453.39,272.43 L454.27,273.01 L455.15,273.59 L456.03,274.18 L456.90,274.77 L457.78,275.37 L458.66,275.97 L459.54,276.58 L460.42,277.19 L461.30,277.80 L462.17,278.43 L463.05,279.05 L463.93,279.69 L464.81,280.32 L465.69,280.97 L466.57,281.61 L467.45,282.27 L468.32,282.93 L469.20,283.59 L470.08,284.26 L470.96,284.93 L471.84,285.61 L472.72,286.30 L473.59,286.99 L474.47,287.69 L475.35,288.39 L476.23,289.10 L477.11,289.81 L477.99,290.53 L478.87,291.25 L479.74,291.98 L480.62,292.72 L481.50,293.46 L482.38,294.21 L483.26,294.96 L484.14,295.72 L485.01,296.48 L485.89,297.25 L486.77,298.03 L487.65,298.81" stroke="#8fbc8f" stroke-dasharray="11.29,4.88"/>
<path d="M49.30,206.72 L50.18,206.75 L51.06,206.79 L51.94,206.82 L52.81,206.86 L53.69,206.89 L54.57,206.93 L55.45,206.96 L56.33,207.00 L57.21,207.03 L58.08,207.07 L58.96,207.10 L59.84,207.14 L60.72,207.17 L61.60,207.21 L62.48,207.25 L63.36,207.28 L64.23,207.32 L65.11,207.35 L65.99,207.39 L66.87,207.42 L67.75,207.46 L68.63,207.50 L69.50,207.53 L70.38,207.57 L71.26,207.61 L72.14,207.64 L73.02,207.68 L73.90,207.72 L74.78,207.75 L75.65,207.79 L76.53,207.83 L77.41,207.86 L78.29,207.90 L79.17,207.94 L80.05,207.98 L80.92,208.01 L81.80,208.05 L82.68,208.09 L83.56,208.13 L84.44,208.17 L85.32,208.20 L86.20,208.24 L87.07,208.28 L87.95,208.32 L88.83,208.36 L89.71,208.40 L90.59,208.44 L91.47,208.48 L92.34,208.51 L93.22,208.55 L94.10,208.59 L94.98,208.63 L95.86,208.67 L96.74,208.71 L97.62,208.75 L98.49,208.79 L99.37,208.84 L100.25,208.88 L101.13,208.92 L102.01,208.96 L102.89,209.00 L103.76,209.04 L104.64,209.08 L105.52,209.12 L106.40,209.17 L107.28,209.21 L108.16,209.25 L109.04,209.29 L109.91,209.34 L110.79,209.38 L111.67,209.42 L112.55,209.47 L113.43,209.51 L114.31,209.55 L115.18,209.60 L116.06,209.64 L116.94,209.68 L117.82,209.73 L118.70,209.77 L119.58,209.82 L120.46,209.86 L121.33,209.91 L122.21,209.95 L123.09,210.00 L123.97,210.05 L124.85,210.09 L125.73,210.14 L126.60,210.19 L127.48,210.23 L128.36,210.28 L129.24,210.33 L130.12,210.37 L131.00,210.42 L131.87,210.47 L132.75,210.52 L133.63,210.57 L134.51,210.61 L135.39,210.66 L136.27,210.71 L137.15,210.76 L138.02,210.81 L138.90,210.86 L139.78,210.91 L140.66,210.96 L141.54,211.01 L142.42,211.06 L143.29,211.11 L144.17,211.17 L145.05,211.22 L145.93,211.27 L146.81,211.32 L147.69,211.37 L148.57,211.43 L149.44,211.48 L150.32,211.53 L151.20,211.59 L152.08,211.64 L152.96,211.69 L153.84,211.75 L154.71,211.80 L155.59,211.86 L156.47,211.91 L157.35,211.97 L158.23,212.02 L159.11,212.08 L159.99,212.14 L160.86,212.19 L161.74,212.25 L162.62,212.31 L163.50,212.36 L164.38,212.42 L165.26,212.48 L166.13,212.54 L167.01,212.60 L167.89,212.66 L168.77,212.72 L169.65,212.77 L170.53,212.83 L171.41,212.90 L172.28,212.96 L173.16,213.02 L174.04,213.08 L174.92,213.14 L175.80,213.20 L176.68,213.26 L177.55,213.33 L178.43,213.39 L179.31,213.45 L180.19,213.52 L181.07,213.58 L181.95,213.64 L182.83,213.71 L183.70,213.77 L184.58,213.84 L185.46,213.90 L186.34,213.97 L187.22,214.04 L188.10,214.10 L188.97,214.17 L189.85,214.24 L190.73,214.31 L191.61,214.37 L192.49,214.44 L193.37,214.51 L194.25,214.58 L195.12,214.65 L196.00,214.72 L196.88,214.79 L197.76,214.86 L198.64,214.93 L199.52,215.00 L200.39,215.07 L201.27,215.15 L202.15,215.22 L203.03,215.29 L203.91,215.37 L204.79,215.44 L205.67,215.51 L206.54,215.59 L207.42,215.66 L208.30,215.74 L209.18,215.81 L210.06,215.89 L210.94,215.97 L211.81,216.04 L212.69,216.12 L213.57,216.20 L214.45,216.28 L215.33,216.35 L216.21,216.43 L217.09,216.51 L217.96,216.59 L218.84,216.67 L219.72,216.75 L220.60,216.83 L221.48,216.92 L222.36,217.00 L223.23,217.08 L224.11,217.16 L224.99,217.25 L225.87,217.33 L226.75,217.41 L227.63,217.50 L228.51,217.58 L229.38,217.67 L230.26,217.75 L231.14,217.84 L232.02,217.93 L232.90,218.01 L233.78,218.10 L234.65,218.19 L235.53,218.28 L236.41,218.37 L237.29,218.46 L238.17,218.55 L239.05,218.64 L239.93,218.73 L240.80,218.82 L241.68,218.91 L242.56,219.00 L243.44,219.10 L244.32,219.19 L245.20,219.28 L246.07,219.38 L246.95,219.47 L247.83,219.57 L248.71,219.66 L249.59,219.76 L250.47,219.85 L251.35,219.95 L252.22,220.05 L253.10,220.15 L253.98,220.25 L254.86,220.34 L255.74,220.44 L256.62,220.54 L257.49,220.64 L258.37,220.75 L259.25,220.85 L260.13,220.95 L261.01,221.05 L261.89,221.16 L262.77,221.26 L263.64,221.36 L264.52,221.47 L265.40,221.57 L266.28,221.68 L267.16,221.78 L268.04,221.89 L268.91,222.00 L269.79,222.11 L270.67,222.22 L271.55,222.33 L272.43,222.44 L273.31,222.55 L274.18,222.66 L275.06,222.77 L275.94,222.88 L276.82,223.00 L277.70,223.11 L278.58,223.23 L279.46,223.34 L280.33,223.46 L281.21,223.57 L282.09,223.69 L282.97,223.81 L283.85,223.93 L284.73,224.05 L285.60,224.17 L286.48,224.29 L287.36,224.42 L288.24,224.54 L289.12,224.67 L290.00,224.79 L290.88,224.92 L291.75,225.05 L292.63,225.17 L293.51,225.30 L294.39,225.43 L295.27,225.57 L296.15,225.70 L297.02,225.83 L297.90,225.97 L298.78,226.10 L299.66,226.24 L300.54,226.38 L301.42,226.51 L302.30,226.65 L303.17,226.79 L304.05,226.94 L304.93,227.08 L305.81,227.22 L306.69,227.37 L307.57,227.51 L308.44,227.66 L309.32,227.81 L310.20,227.96 L311.08,228.11 L311.96,228.26 L312.84,228.42 L313.72,228.57 L314.59,228.73 L315.47,228.88 L316.35,229.04 L317.23,229.20 L318.11,229.36 L318.99,229.53 L319.86,229.69 L320.74,229.85 L321.62,230.02 L322.50,230.19 L323.38,230.36 L324.26,230.53 L325.14,230.70 L326.01,230.87 L326.89,231.05 L327.77,231.22 L328.65,231.40 L329.53,231.58 L330.41,231.76 L331.28,231.94 L332.16,232.13 L333.04,232.31 L333.92,232.50 L334.80,232.69 L335.68,232.88 L336.56,233.07 L337.43,233.26 L338.31,233.45 L339.19,233.65 L340.07,233.85 L340.95,234.05 L341.83,234.25 L342.70,234.45 L343.58,234.65 L344.46,234.86 L345.34,235.07 L346.22,235.28 L347.10,235.49 L347.98,235.70 L348.85,235.92 L349.73,236.13 L350.61,236.35 L351.49,236.57 L352.37,236.80 L353.25,237.02 L354.12,237.25 L355.00,237.48 L355.88,237.71 L356.76,237.94 L357.64,238.18 L358.52,238.41 L359.40,238.65 L360.27,238.89 L361.15,239.14 L362.03,239.38 L362.91,239.63 L363.79,239.88 L364.67,240.13 L365.54,240.39 L366.42,240.65 L367.30,240.91 L368.18,241.17 L369.06,241.43 L369.94,241.70 L370.82,241.97 L371.69,242.24 L372.57,242.52 L373.45,242.79 L374.33,243.07 L375.21,243.35 L376.09,243.64 L376.96,243.93 L377.84,244.22 L378.72,244.51 L379.60,244.80 L380.48,245.10 L381.36,245.40 L382.24,245.71 L383.11,246.01 L383.99,246.32 L384.87,246.63 L385.75,246.95 L386.63,247.27 L387.51,247.59 L388.38,247.91 L389.26,248.24 L390.14,248.57 L391.02,248.90 L391.90,249.24 L392.78,249.58 L393.66,249.92 L394.53,250.26 L395.41,250.61 L396.29,250.96 L397.17,251.32 L398.05,251.68 L398.93,252.04 L399.80,252.40 L400.68,252.77 L401.56,253.14 L402.44,253.51 L403.32,253.89 L404.20,254.27 L405.08,254.66 L405.95,255.04 L406.83,255.44 L407.71,255.83 L408.59,256.23 L409.47,256.63 L410.35,257.04 L411.22,257.45 L412.10,257.86 L412.98,258.27 L413.86,258.69 L414.74,259.12 L415.62,259.54 L416.49,259.98 L417.37,260.41 L418.25,260.85 L419.13,261.29 L420.01,261.74 L420.89,262.19 L421.77,262.64 L422.64,263.10 L423.52,263.56 L424.40,264.02 L425.28,264.49 L426.16,264.97 L427.04,265.44 L427.91,265.93 L428.79,266.41 L429.67,266.90 L430.55,267.39 L431.43,267.89 L432.31,268.39 L433.19,268.90 L434.06,269.41 L434.94,269.93 L435.82,270.44 L436.70,270.97 L437.58,271.50 L438.46,272.03 L439.33,272.56 L440.21,273.10 L441.09,273.65 L441.97,274.20 L442.85,274.75 L443.73,275.31 L444.61,275.87 L445.48,276.44 L446.36,277.01 L447.24,277.59 L448.12,278.17 L449.00,278.75 L449.88,279.34 L450.75,279.94 L451.63,280.54 L452.51,281.14 L453.39,281.75 L454.27,282.36 L455.15,282.98 L456.03,283.61 L456.90,284.23 L457.78,284.87 L458.66,285.51 L459.54,286.15 L460.42,286.80 L461.30,287.45 L462.17,288.11 L463.05,288.77 L463.93,289.44 L464.81,290.11 L465.69,290.79 L466.57,291.47 L467.45,292.16 L468.32,292.85 L469.20,293.55 L470.08,294.25 L470.96,294.96 L471.84,295.67 L472.72,296.39 L473.59,297.12 L474.47,297.85 L475.35,298.58 L476.23,299.32 L477.11,300.07 L477.99,300.82 L478.87,301.58 L479.74,302.34 L480.62,303.11 L481.50,303.88 L482.38,304.66 L483.26,305.44 L484.14,306.23 L485.01,307.03 L485.89,307.83 L486.77,308.64 L487.65,309.45" stroke="#1e90ff" stroke-dasharray="19.52,4.88,3.05,4.88"/>
<path d="M49.30,177.85 L50.18,177.91 L51.06,177.96 L51.94,178.02 L52.81,178.07 L53.69,178.13 L54.57,178.18 L55.45,178.23 L56.33,178.28 L57.21,178.34 L58.08,178.39 L58.96,178.44 L59.84,178.49 L60.72,178.54 L61.60,178.59 L62.48,178.64 L63.36,178.69 L64.23,178.74 L65.11,178.79 L65.99,178.84 L66.87,178.88 L67.75,178.93 L68.63,178.98 L69.50,179.03 L70.38,179.07 L71.26,179.12 L72.14,179.16 L73.02,179.21 L73.90,179.25 L74.78,179.30 L75.65,179.34 L76.53,179.39 L77.41,179.43 L78.29,179.47 L79.17,179.52 L80.05,179.56 L80.92,179.60 L81.80,179.65 L82.68,179.69 L83.56,179.73 L84.44,179.77 L85.32,179.81 L86.20,179.85 L87.07,179.89 L87.95,179.93 L88.83,179.97 L89.71,180.01 L90.59,180.05 L91.47,180.09 L92.34,180.13 L93.22,180.17 L94.10,180.21 L94.98,180.25 L95.86,180.29 L96.74,180.32 L97.62,180.36 L98.49,180.40 L99.37,180.44 L100.25,180.47 L101.13,180.51 L102.01,180.55 L102.89,180.58 L103.76,180.62 L104.64,180.66 L105.52,180.69 L106.40,180.73 L107.28,180.77 L108.16,180.80 L109.04,180.84 L109.91,180.87 L110.79,180.91 L111.67,180.94 L112.55,180.98 L113.43,181.01 L114.31,181.05 L115.18,181.08 L116.06,181.12 L116.94,181.15 L117.82,181.19 L118.70,181.22 L119.58,181.26 L120.46,181.29 L121.33,181.33 L122.21,181.36 L123.09,181.39 L123.97,181.43 L124.85,181.46 L125.73,181.50 L126.60,181.53 L127.48,181.57 L128.36,181.60 L129.24,181.63 L130.12,181.67 L131.00,181.70 L131.87,181.74 L132.75,181.77 L133.63,181.80 L134.51,181.84 L135.39,181.87 L136.27,181.91 L137.15,181.94 L138.02,181.97 L138.90,182.01 L139.78,182.04 L140.66,182.08 L141.54,182.11 L142.42,182.15 L143.29,182.18 L144.17,182.22 L145.05,182.25 L145.93,182.28 L146.81,182.32 L147.69,182.35 L148.57,182.39 L149.44,182.42 L150.32,182.46 L151.20,182.49 L152.08,182.53 L152.96,182.57 L153.84,182.60 L154.71,182.64 L155.59,182.67 L156.47,182.71 L157.35,182.75 L158.23,182.78 L159.11,182.82 L159.99,182.86 L160.86,182.89 L161.74,182.93 L162.62,182.97 L163.50,183.00 L164.38,183.04 L165.26,183.08 L166.13,183.12 L167.01,183.16 L167.89,183.19 L168.77,183.23 L169.65,183.27 L170.53,183.31 L171.41,183.35 L172.28,183.39 L173.16,183.43 L174.04,183.47 L174.92,183.51 L175.80,183.55 L176.68,183.59 L177.55,183.63 L178.43,183.67 L179.31,183.71 L180.19,183.76 L181.07,183.80 L181.95,183.84 L182.83,183.88 L183.70,183.93 L184.58,183.97 L185.46,184.01 L186.34,184.06 L187.22,184.10 L188.10,184.15 L188.97,184.19 L189.85,184.24 L190.73,184.28 L191.61,184.33 L192.49,184.37 L193.37,184.42 L194.25,184.47 L195.12,184.52 L196.00,184.56 L196.88,184.61 L197.76,184.66 L198.64,184.71 L199.52,184.76 L200.39,184.81 L201.27,184.86 L202.15,184.91 L203.03,184.96 L203.91,185.01 L204.79,185.06 L205.67,185.11 L206.54,185.17 L207.42,185.22 L208.30,185.27 L209.18,185.33 L210.06,185.38 L210.94,185.44 L211.81,185.49 L212.69,185.55 L213.57,185.60 L214.45,185.66 L215.33,185.72 L216.21,185.77 L217.09,185.83 L217.96,185.89 L218.84,185.95 L219.72,186.01 L220.60,186.07 L221.48,186.13 L222.36,186.19 L223.23,186.25 L224.11,186.32 L224.99,186.38 L225.87,186.44 L226.75,186.51 L227.63,186.57 L228.51,186.64 L229.38,186.70 L230.26,186.77 L231.14,186.83 L232.02,186.90 L232.90,186.97 L233.78,187.04 L234.65,187.11 L235.53,187.18 L236.41,187.25 L237.29,187.32 L238.17,187.39 L239.05,187.46 L239.93,187.53 L240.80,187.61 L241.68,187.68 L242.56,187.76 L243.44,187.83 L244.32,187.91 L245.20,187.98 L246.07,188.06 L246.95,188.14 L247.83,188.22 L248.71,188.30 L249.59,188.38 L250.47,188.46 L251.35,188.54 L252.22,188.62 L253.10,188.70 L253.98,188.79 L254.86,188.87 L255.74,188.96 L256.62,189.04 L257.49,189.13 L258.37,189.22 L259.25,189.30 L260.13,189.39 L261.01,189.48 L261.89,189.57 L262.77,189.66 L263.64,189.75 L264.52,189.85 L265.40,189.94 L266.28,190.03 L267.16,190.13 L268.04,190.22 L268.91,190.32 L269.79,190.42 L270.67,190.51 L271.55,190.61 L272.43,190.71 L273.31,190.81 L274.18,190.91 L275.06,191.01 L275.94,191.12 L276.82,191.22 L277.70,191.33 L278.58,191.43 L279.46,191.54 L280.33,191.64 L281.21,191.75 L282.09,191.86 L282.97,191.97 L283.85,192.08 L284.73,192.19 L285.60,192.30 L286.48,192.42 L287.36,192.53 L288.24,192.65 L289.12,192.76 L290.00,192.88 L290.88,193.00 L291.75,193.11 L292.63,193.23 L293.51,193.35 L294.39,193.48 L295.27,193.60 L296.15,193.72 L297.02,193.85 L297.90,193.97 L298.78,194.10 L299.66,194.22 L300.54,194.35 L301.42,194.48 L302.30,194.61 L303.17,194.74 L304.05,194.88 L304.93,195.01 L305.81,195.14 L306.69,195.28 L307.57,195.41 L308.44,195.55 L309.32,195.69 L310.20,195.83 L311.08,195.97 L311.96,196.11 L312.84,196.25 L313.72,196.40 L314.59,196.54 L315.47,196.69 L316.35,196.83 L317.23,196.98 L318.11,197.13 L318.99,197.28 L319.86,197.43 L320.74,197.58 L321.62,197.73 L322.50,197.89 L323.38,198.04 L324.26,198.20 L325.14,198.36 L326.01,198.52 L326.89,198.68 L327.77,198.84 L328.65,199.00 L329.53,199.16 L330.41,199.33 L331.28,199.49 L332.16,199.66 L333.04,199.83 L333.92,200.00 L334.80,200.17 L335.68,200.34 L336.56,200.51 L337.43,200.68 L338.31,200.86 L339.19,201.03 L340.07,201.21 L340.95,201.39 L341.83,201.57 L342.70,201.75 L343.58,201.93 L344.46,202.12 L345.34,202.30 L346.22,202.49 L347.10,202.67 L347.98,202.86 L348.85,203.05 L349.73,203.24 L350.61,203.43 L351.49,203.63 L352.37,203.82 L353.25,204.02 L354.12,204.22 L355.00,204.42 L355.88,204.62 L356.76,204.82 L357.64,205.02 L358.52,205.23 L359.40,205.44 L360.27,205.64 L361.15,205.86 L362.03,206.07 L362.91,206.28 L363.79,206.50 L364.67,206.71 L365.54,206.93 L366.42,207.16 L367.30,207.38 L368.18,207.60 L369.06,207.83 L369.94,208.06 L370.82,208.29 L371.69,208.53 L372.57,208.76 L373.45,209.00 L374.33,209.24 L375.21,209.48 L376.09,209.73 L376.96,209.97 L377.84,210.22 L378.72,210.47 L379.60,210.73 L380.48,210.98 L381.36,211.24 L382.24,211.50 L383.11,211.77 L383.99,212.03 L384.87,212.30 L385.75,212.57 L386.63,212.85 L387.51,213.12 L388.38,213.40 L389.26,213.68 L390.14,213.97 L391.02,214.26 L391.90,214.55 L392.78,214.84 L393.66,215.14 L394.53,215.44 L395.41,215.74 L396.29,216.04 L397.17,216.35 L398.05,216.66 L398.93,216.98 L399.80,217.30 L400.68,217.62 L401.56,217.94 L402.44,218.27 L403.32,218.60 L404.20,218.93 L405.08,219.27 L405.95,219.61 L406.83,219.95 L407.71,220.30 L408.59,220.65 L409.47,221.01 L410.35,221.36 L411.22,221.72 L412.10,222.09 L412.98,222.46 L413.86,222.83 L414.74,223.21 L415.62,223.59 L416.49,223.97 L417.37,224.36 L418.25,224.75 L419.13,225.14 L420.01,225.54 L420.89,225.94 L421.77,226.35 L422.64,226.76 L423.52,227.17 L424.40,227.59 L425.28,228.02 L426.16,228.44 L427.04,228.87 L427.91,229.31 L428.79,229.75 L429.67,230.19 L430.55,230.64 L431.43,231.09 L432.31,231.55 L433.19,232.01 L434.06,232.47 L434.94,232.94 L435.82,233.41 L436.70,233.89 L437.58,234.37 L438.46,234.85 L439.33,235.34 L440.21,235.84 L441.09,236.33 L441.97,236.84 L442.85,237.34 L443.73,237.85 L444.61,238.37 L445.48,238.89 L446.36,239.41 L447.24,239.94 L448.12,240.47 L449.00,241.01 L449.88,241.55 L450.75,242.09 L451.63,242.64 L452.51,243.19 L453.39,243.75 L454.27,244.31 L455.15,244.88 L456.03,245.45 L456.90,246.03 L457.78,246.61 L458.66,247.19 L459.54,247.78 L460.42,248.37 L461.30,248.97 L462.17,249.57 L463.05,250.18 L463.93,250.79 L464.81,251.40 L465.69,252.02 L466.57,252.65 L467.45,253.27 L468.32,253.91 L469.20,254.55 L470.08,255.19 L470.96,255.83 L471.84,256.48 L472.72,257.14 L473.59,257.80 L474.47,258.46 L475.35,259.13 L476.23,259.81 L477.11,260.49 L477.99,261.17 L478.87,261.86 L479.74,262.55 L480.62,263.24 L481.50,263.95 L482.38,264.65 L483.26,265.36 L484.14,266.08 L485.01,266.80 L485.89,267.52 L486.77,268.25 L487.65,268.98" stroke="#cd7f32" stroke-dasharray="3.05,5.03"/>
<line x1="364.8" x2="364.8" y1="175.6" y2="330" stroke="#c0c0c0" stroke-width="2.45" stroke-dasharray="15.68,3.92,2.45,3.92"/>
</g>
<!-- ticks -->
<g stroke="#161616" stroke-width="1.05"><line x1="50.85" x2="50.85" y1="155.95" y2="160.6"/><line x1="176.18" x2="176.18" y1="155.95" y2="160.6"/><line x1="301.51" x2="301.51" y1="155.95" y2="160.6"/><line x1="426.84" x2="426.84" y1="155.95" y2="160.6"/><line x1="88.58" x2="88.58" y1="155.95" y2="158.64999999999998" stroke-width="0.85"/><line x1="110.65" x2="110.65" y1="155.95" y2="158.64999999999998" stroke-width="0.85"/><line x1="126.31" x2="126.31" y1="155.95" y2="158.64999999999998" stroke-width="0.85"/><line x1="138.45" x2="138.45" y1="155.95" y2="158.64999999999998" stroke-width="0.85"/><line x1="148.38" x2="148.38" y1="155.95" y2="158.64999999999998" stroke-width="0.85"/><line x1="156.77" x2="156.77" y1="155.95" y2="158.64999999999998" stroke-width="0.85"/><line x1="164.03" x2="164.03" y1="155.95" y2="158.64999999999998" stroke-width="0.85"/><line x1="170.45" x2="170.45" y1="155.95" y2="158.64999999999998" stroke-width="0.85"/><line x1="213.91" x2="213.91" y1="155.95" y2="158.64999999999998" stroke-width="0.85"/><line x1="235.98" x2="235.98" y1="155.95" y2="158.64999999999998" stroke-width="0.85"/><line x1="251.64" x2="251.64" y1="155.95" y2="158.64999999999998" stroke-width="0.85"/><line x1="263.78" x2="263.78" y1="155.95" y2="158.64999999999998" stroke-width="0.85"/><line x1="273.71" x2="273.71" y1="155.95" y2="158.64999999999998" stroke-width="0.85"/><line x1="282.10" x2="282.10" y1="155.95" y2="158.64999999999998" stroke-width="0.85"/><line x1="289.36" x2="289.36" y1="155.95" y2="158.64999999999998" stroke-width="0.85"/><line x1="295.78" x2="295.78" y1="155.95" y2="158.64999999999998" stroke-width="0.85"/><line x1="339.24" x2="339.24" y1="155.95" y2="158.64999999999998" stroke-width="0.85"/><line x1="361.31" x2="361.31" y1="155.95" y2="158.64999999999998" stroke-width="0.85"/><line x1="376.97" x2="376.97" y1="155.95" y2="158.64999999999998" stroke-width="0.85"/><line x1="389.11" x2="389.11" y1="155.95" y2="158.64999999999998" stroke-width="0.85"/><line x1="399.04" x2="399.04" y1="155.95" y2="158.64999999999998" stroke-width="0.85"/><line x1="407.43" x2="407.43" y1="155.95" y2="158.64999999999998" stroke-width="0.85"/><line x1="414.69" x2="414.69" y1="155.95" y2="158.64999999999998" stroke-width="0.85"/><line x1="421.11" x2="421.11" y1="155.95" y2="158.64999999999998" stroke-width="0.85"/><line x1="464.57" x2="464.57" y1="155.95" y2="158.64999999999998" stroke-width="0.85"/><line x1="486.64" x2="486.64" y1="155.95" y2="158.64999999999998" stroke-width="0.85"/><line x1="50.85" x2="50.85" y1="326.25" y2="330.9"/><line x1="176.18" x2="176.18" y1="326.25" y2="330.9"/><line x1="301.51" x2="301.51" y1="326.25" y2="330.9"/><line x1="426.84" x2="426.84" y1="326.25" y2="330.9"/><line x1="88.58" x2="88.58" y1="326.25" y2="328.95" stroke-width="0.85"/><line x1="110.65" x2="110.65" y1="326.25" y2="328.95" stroke-width="0.85"/><line x1="126.31" x2="126.31" y1="326.25" y2="328.95" stroke-width="0.85"/><line x1="138.45" x2="138.45" y1="326.25" y2="328.95" stroke-width="0.85"/><line x1="148.38" x2="148.38" y1="326.25" y2="328.95" stroke-width="0.85"/><line x1="156.77" x2="156.77" y1="326.25" y2="328.95" stroke-width="0.85"/><line x1="164.03" x2="164.03" y1="326.25" y2="328.95" stroke-width="0.85"/><line x1="170.45" x2="170.45" y1="326.25" y2="328.95" stroke-width="0.85"/><line x1="213.91" x2="213.91" y1="326.25" y2="328.95" stroke-width="0.85"/><line x1="235.98" x2="235.98" y1="326.25" y2="328.95" stroke-width="0.85"/><line x1="251.64" x2="251.64" y1="326.25" y2="328.95" stroke-width="0.85"/><line x1="263.78" x2="263.78" y1="326.25" y2="328.95" stroke-width="0.85"/><line x1="273.71" x2="273.71" y1="326.25" y2="328.95" stroke-width="0.85"/><line x1="282.10" x2="282.10" y1="326.25" y2="328.95" stroke-width="0.85"/><line x1="289.36" x2="289.36" y1="326.25" y2="328.95" stroke-width="0.85"/><line x1="295.78" x2="295.78" y1="326.25" y2="328.95" stroke-width="0.85"/><line x1="339.24" x2="339.24" y1="326.25" y2="328.95" stroke-width="0.85"/><line x1="361.31" x2="361.31" y1="326.25" y2="328.95" stroke-width="0.85"/><line x1="376.97" x2="376.97" y1="326.25" y2="328.95" stroke-width="0.85"/><line x1="389.11" x2="389.11" y1="326.25" y2="328.95" stroke-width="0.85"/><line x1="399.04" x2="399.04" y1="326.25" y2="328.95" stroke-width="0.85"/><line x1="407.43" x2="407.43" y1="326.25" y2="328.95" stroke-width="0.85"/><line x1="414.69" x2="414.69" y1="326.25" y2="328.95" stroke-width="0.85"/><line x1="421.11" x2="421.11" y1="326.25" y2="328.95" stroke-width="0.85"/><line x1="464.57" x2="464.57" y1="326.25" y2="328.95" stroke-width="0.85"/><line x1="486.64" x2="486.64" y1="326.25" y2="328.95" stroke-width="0.85"/><line x1="46.02" x2="50.82" y1="137.00" y2="137.00"/><line x1="46.02" x2="50.82" y1="97.60" y2="97.60"/><line x1="46.02" x2="50.82" y1="58.20" y2="58.20"/><line x1="46.02" x2="50.82" y1="18.80" y2="18.80"/><line x1="46.02" x2="50.82" y1="172.19" y2="172.19"/><line x1="46.02" x2="50.82" y1="201.82" y2="201.82"/><line x1="46.02" x2="50.82" y1="231.45" y2="231.45"/><line x1="46.02" x2="50.82" y1="261.08" y2="261.08"/><line x1="46.02" x2="50.82" y1="290.71" y2="290.71"/><line x1="46.02" x2="50.82" y1="320.35" y2="320.35"/></g>
<!-- spines -->
<g fill="none" stroke="#141414" stroke-width="1.25">
<rect x="50.82" y="1.05" width="435.88" height="154.89999999999998"/>
<rect x="50.82" y="171.5" width="435.88" height="154.75"/>
</g>
<!-- tick labels -->
<g font-size="12" fill="#222"><text x="42.2" y="141.35" text-anchor="end">100</text><text x="42.2" y="101.95" text-anchor="end">200</text><text x="42.2" y="62.55" text-anchor="end">300</text><text x="42.2" y="23.15" text-anchor="end">400</text><text x="42.2" y="176.53" text-anchor="end">5.0</text><text x="42.2" y="206.17" text-anchor="end">2.5</text><text x="42.2" y="235.80" text-anchor="end">0.0</text><text x="42.2" y="265.43" text-anchor="end">2.5</text><rect x="18.6" y="261.33" width="7.1" height="0.85" fill="#222"/><text x="42.2" y="295.06" text-anchor="end">5.0</text><rect x="18.6" y="290.96" width="7.1" height="0.85" fill="#222"/><text x="42.2" y="324.70" text-anchor="end">7.5</text><rect x="18.6" y="320.60" width="7.1" height="0.85" fill="#222"/><text x="38.55" y="344.1" font-size="12.4">10</text><rect x="51.65" y="336.5" width="5.8" height="0.85" fill="#222"/><text x="58.15" y="339.2" font-size="9">5</text><text x="163.88" y="344.1" font-size="12.4">10</text><rect x="176.98" y="336.5" width="5.8" height="0.85" fill="#222"/><text x="183.48" y="339.2" font-size="9">4</text><text x="289.21" y="344.1" font-size="12.4">10</text><rect x="302.31" y="336.5" width="5.8" height="0.85" fill="#222"/><text x="308.81" y="339.2" font-size="9">3</text><text x="414.54" y="344.1" font-size="12.4">10</text><rect x="427.64" y="336.5" width="5.8" height="0.85" fill="#222"/><text x="434.14" y="339.2" font-size="9">2</text></g>
<!-- axis labels -->
<g font-size="12" fill="#222">
<text x="246.7" y="359.4" font-size="12.6" font-style="italic" textLength="8.0" lengthAdjust="spacingAndGlyphs">T</text><text x="260.2" y="359.4" textLength="29.2" lengthAdjust="spacingAndGlyphs">[GeV]</text>
<g transform="translate(15.3,99.7) rotate(-90)">
<text x="0" y="0" font-style="italic" font-size="12.4">S</text>
<text x="6.0" y="2.2" font-size="8.6">3</text>
<text x="10.7" y="0">(</text>
<text x="14.6" y="0" font-style="italic" font-size="12.8" textLength="8.0" lengthAdjust="spacingAndGlyphs">T</text>
<text x="22.8" y="0">)</text>
<path d="M27.7,2.7 L33.6,-8.7" stroke="#222" stroke-width="0.85" fill="none"/>
<text x="34.8" y="0" font-style="italic" font-size="12.8" textLength="9.6" lengthAdjust="spacingAndGlyphs">T</text>
</g>
<g transform="translate(10.9,296.3) rotate(-90)">
<text x="0" y="0" textLength="42.2" lengthAdjust="spacingAndGlyphs">Relative</text>
<text x="48.6" y="0" textLength="26.0" lengthAdjust="spacingAndGlyphs">Error</text>
<text x="80.0" y="0" textLength="15.9" lengthAdjust="spacingAndGlyphs">[%]</text>
</g>
</g>
<!-- legend -->
<rect x="57.1" y="7.3" width="68.85" height="79.0" rx="2.8" fill="#fff" fill-opacity="0.8" stroke="#d2d2d2" stroke-width="1.3"/>
<g fill="none" stroke-width="3.05">
<line x1="61.5" x2="86.5" y1="16.2" y2="16.2" stroke="#b52020" stroke-linecap="square"/>
<line x1="61.9" x2="86.3" y1="35.0" y2="35.0" stroke="#8fbc8f" stroke-dasharray="11.29,4.88"/>
<line x1="61.8" x2="84.0" y1="56.35" y2="56.35" stroke="#1e90ff" stroke-dasharray="19.52,4.88,3.05,4.88"/>
<line x1="61.8" x2="86.5" y1="74.5" y2="74.5" stroke="#cd7f32" stroke-dasharray="3.05,5.03"/>
</g>
<g font-size="12.6" fill="#222">
<text x="96.6" y="20.4" font-style="italic">V</text><text x="103.0" y="22.6" font-size="8.7" textLength="10.6" lengthAdjust="spacingAndGlyphs">eff</text>
<text x="96.6" y="39.7" font-style="italic">V</text><text x="103.0" y="42.9" font-size="8.7" textLength="10.6" lengthAdjust="spacingAndGlyphs">eff</text>
<text x="106.5" y="35.2" font-size="8.6" textLength="11.8" lengthAdjust="spacingAndGlyphs">GS</text>
<text x="96.6" y="60.6" font-style="italic">V</text><text x="103.0" y="63.8" font-size="8.7" textLength="10.6" lengthAdjust="spacingAndGlyphs">eff</text>
<path d="M99.2,50.7 C99.8,49.0 100.7,49.2 101.2,49.9 C101.8,50.7 102.6,50.7 103.1,49.1" fill="none" stroke="#222" stroke-width="0.85"/>
<text x="107.0" y="54.8" font-size="8.6" textLength="13.6" lengthAdjust="spacingAndGlyphs">Leg</text>
<text x="96.6" y="79.5" font-style="italic">V</text><text x="103.7" y="81.0" font-size="8.7" textLength="13.4" lengthAdjust="spacingAndGlyphs">HT</text>
</g>
<!-- title box -->
<rect x="134.45" y="8.7" width="104.2" height="18.9" rx="3.6" fill="#fff" stroke="#1a1a1a" stroke-width="1.2"/>
<g font-size="12" fill="#222">
<text x="138.5" y="21.4" font-style="italic" font-size="12.4">S</text>
<text x="145.5" y="23.6" font-size="8.8">3</text>
<text x="150.9" y="21.4">(</text>
<text x="154.6" y="21.4" font-style="italic" font-size="12.8" textLength="8.6" lengthAdjust="spacingAndGlyphs">T</text>
<text x="164.6" y="21.4">)</text>
<text x="172.3" y="21.4">-</text>
<text x="182.2" y="21.4" textLength="52.2" lengthAdjust="spacing">Levi et al.</text>
</g>
<!-- Tp -->
<text x="342.9" y="52.7" font-size="14.6" fill="#222" font-style="italic" textLength="10.2" lengthAdjust="spacingAndGlyphs">T</text>
<text x="350.8" y="55.0" font-size="10" fill="#222" font-style="italic" textLength="5.4" lengthAdjust="spacingAndGlyphs">p</text>
<!-- b box -->
<rect x="443.1" y="85.9" width="37.3" height="21.7" rx="3.8" fill="#fff" stroke="#1a1a1a" stroke-width="1.2"/>
<g font-size="13.4" fill="#222">
<text x="447.6" y="100.9" font-style="italic">b</text>
<text x="468.9" y="100.9">5</text>
</g>
<!-- g box -->
<rect x="397.2" y="111.4" width="83.7" height="35.7" rx="3.8" fill="#fff" stroke="#1a1a1a" stroke-width="1.2"/>
<g font-size="13.4" fill="#222">
<text x="420.4" y="125.8" font-style="italic">g</text>
<path d="M429.3,115.9 L427.8,120.2" stroke="#222" stroke-width="1.0" fill="none" stroke-linecap="round"/>
<text x="427.8" y="129.2" font-size="9.4">0</text>
<text x="451.8" y="125.8" textLength="18.4" lengthAdjust="spacing">0.6</text>
<text x="402.0" y="140.3" font-style="italic" font-size="14">φ</text>
<text x="411.3" y="143.2" font-size="9.4">0</text>
<text x="436.2" y="140.3">1</text>
<text x="447.9" y="140.3" textLength="27.9" lengthAdjust="spacingAndGlyphs">GeV</text>
</g>
<g stroke="#222" stroke-width="0.8">
<line x1="458.3" x2="467.9" y1="95.1" y2="95.1"/><line x1="458.3" x2="467.9" y1="98.0" y2="98.0"/>
<line x1="437.5" x2="447.1" y1="120.2" y2="120.2"/><line x1="437.5" x2="447.1" y1="123.1" y2="123.1"/>
<line x1="421.3" x2="430.9" y1="134.7" y2="134.7"/><line x1="421.3" x2="430.9" y1="137.6" y2="137.6"/>
</g>
</svg>
</body></html>
